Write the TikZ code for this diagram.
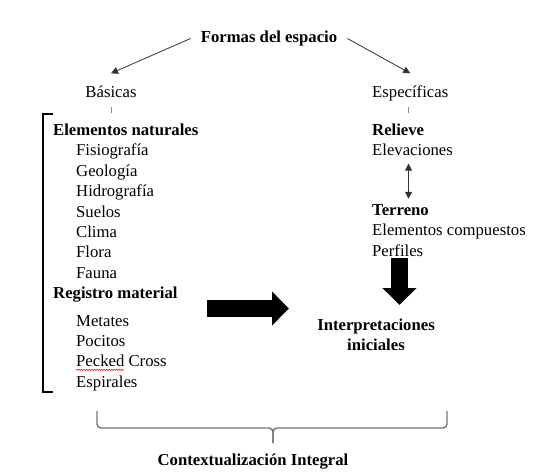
\documentclass[tikz,border=0pt]{standalone}
\usepackage{fontspec}
\setmainfont{Liberation Serif}
\usepackage{tikz}
\usetikzlibrary{positioning, arrows.meta, calc, decorations.pathmorphing}

\begin{document}
\begin{tikzpicture}[x=1pt, y=-1pt,
        font=\fontsize{16.7pt}{20pt}\selectfont,
        txt/.style={inner xsep=0pt, inner ysep=2pt, text height=12pt, text depth=4pt},
        head/.style={txt, font=\fontsize{16.7pt}{20pt}\selectfont\bfseries},
        item/.style={txt, anchor=north west},
        thinarrow/.style={draw=black!80, line width=0.8pt, -{Triangle[width=7pt,length=7pt]}},
        dblarrow/.style={draw=black!80, line width=0.8pt, {Triangle[width=7pt,length=7pt]}-{Triangle[width=7pt,length=7pt]}},
        bigarrow/.style={line width=17pt, -{Triangle[width=33pt,length=17pt]}},
        tick/.style={draw=black!45, line width=0.6pt},
        bracebar/.style={draw=black!55, line width=1.4pt, rounded corners=4pt}]
        \useasboundingbox (0,0) rectangle (548,474);

        \node (formas) [head, anchor=base] at (269,42.5) {Formas del espacio};
        \node (basicas) [txt, anchor=base] at (111,97.5) {Básicas};
        \node (especificas) [txt, anchor=base west] at (372,97.5) {Específicas};

        \node (naturales) [head, anchor=base west] at (53,135.5) {Elementos naturales};
        \node (fisio) [item] at ([xshift=23pt]naturales.south west) {Fisiografía};
        \node (geol) [item] at (fisio.south west) {Geología};
        \node (hidro) [item] at (geol.south west) {Hidrografía};
        \node (suelos) [item] at (hidro.south west) {Suelos};
        \node (clima) [item] at (suelos.south west) {Clima};
        \node (flora) [item] at (clima.south west) {Flora};
        \node (fauna) [item] at (flora.south west) {Fauna};
        \node (registro) [head, anchor=north west] at ([xshift=-23pt]fauna.south west) {Registro material};
        \node (metates) [item] at ([xshift=23pt,yshift=-7pt]registro.south west) {Metates};
        \node (pocitos) [item] at (metates.south west) {Pocitos};
        \node (pecked) [item] at (pocitos.south west) {Pecked Cross};
        \node (espirales) [item] at (pecked.south west) {Espirales};

        \node (relieve) [head, anchor=base west] at (372,135.5) {Relieve};
        \node (elevaciones) [item] at (relieve.south west) {Elevaciones};
        \node (terreno) [head, anchor=base west] at (372,215.5) {Terreno};
        \node (compuestos) [item] at (terreno.south west) {Elementos compuestos};
        \node (perfiles) [item] at (compuestos.south west) {Perfiles};

        \node (interp) [head, anchor=base] at (376,330.5) {Interpretaciones};
        \node (iniciales) [head, anchor=north] at (interp.south) {iniciales};
        \node (contexto) [head, anchor=base] at (253,465) {Contextualización Integral};

        \draw[thinarrow] ([xshift=-10pt]formas.west) -- ([yshift=10pt]basicas.north);
        \draw[thinarrow] ([xshift=10pt]formas.east) -- ([yshift=10pt]especificas.north);
        \draw[tick] ([yshift=-3.5pt]basicas.south) -- ++(0,6);
        \draw[tick] ([xshift=-1.5pt,yshift=-3.5pt]especificas.south) -- ++(0,6);
        \draw[dblarrow] ($(elevaciones.south)+(-4,1.5)$) -- ($(elevaciones.south |- terreno.north)+(-4,-2.5)$);

        \draw[line width=1.2pt] (53,114) -- (43,114) -- (43,392) -- (53,392);
        \draw[red, line width=0.5pt, decorate, decoration={snake, amplitude=0.6pt, segment length=2.5pt}]
            ([yshift=-3pt]pecked.base west) -- ++(48,0);

        \coordinate (rstart) at (207,308.5);
        \coordinate (dstart) at (399.5,258);
        \draw[bigarrow] (rstart) -- ++(82,0);
        \draw[bigarrow] (dstart) -- ++(0,47);

        \draw[bracebar] (97,411) -- (97,428) -- (273,428) -- (273,443);
        \draw[bracebar] (447,411) -- (447,428) -- (273,428) -- (273,443);
\end{tikzpicture}
\end{document}
